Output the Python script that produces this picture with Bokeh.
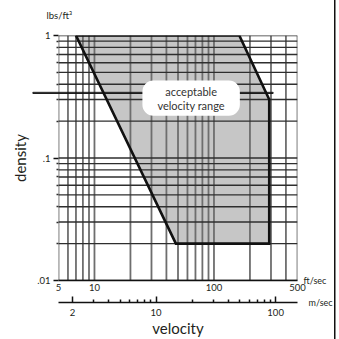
from bokeh.plotting import figure
from bokeh.models import Range1d, LogAxis, LogScale, FixedTicker, Label
from bokeh.embed import file_html
from bokeh.resources import INLINE

# ---- data -------------------------------------------------------------
region_velocity_fts = [7, 163, 290, 290, 48]
region_density = [1, 1, 0.3, 0.02, 0.02]

fts_grid = [5, 6, 7, 8, 9, 10, 20, 30, 40, 50, 60, 70, 80, 90, 100, 200, 300, 400, 500]
density_grid = [1, 0.9, 0.8, 0.7, 0.6, 0.5, 0.4, 0.3, 0.2,
                0.1, 0.09, 0.08, 0.07, 0.06, 0.05, 0.04, 0.03, 0.02, 0.01]

fts_ticks = [5, 10, 100, 500]
fts_tick_labels = ["5", "10", "100", "500"]
ms_ticks = [2, 10, 100]
ms_tick_labels = ["2", "10", "100"]
ms_minor_ticks = [3, 4, 5, 6, 7, 8, 9, 20, 30, 40, 50, 60, 70, 80, 90]
density_ticks = [1, 0.1, 0.01]
density_tick_labels = ["1", ".1", ".01"]
density_minor_ticks = [0.9, 0.8, 0.7, 0.6, 0.5, 0.4, 0.3, 0.2,
                       0.09, 0.08, 0.07, 0.06, 0.05, 0.04, 0.03, 0.02]
marker_density = 0.34
FT_PER_M = 3.28084

FONT = "Lato"
TXT = "#231f20"

p = figure(width=334, height=339, x_axis_type="log", y_axis_type="log",
           x_range=Range1d(5, 500), y_range=Range1d(0.01, 1),
           output_backend="svg", toolbar_location=None,
           min_border_left=58, min_border_right=37, min_border_top=35, min_border_bottom=58)
p.outline_line_color = None
p.grid.visible = False
p.styles = {"box-shadow": "1.5px 0 0 #111111"}

# region fill
p.patch(region_velocity_fts, region_density, fill_color="#c6c6c6", line_color=None)

# grid lines (drawn over the fill)
n = len(fts_grid)
p.segment(x0=fts_grid, y0=[density_grid[-1]] * n, x1=fts_grid, y1=[density_grid[0]] * n,
          line_color="#6e6e6e", line_width=1.8)
m = len(density_grid)
p.segment(x0=[fts_grid[0]] * m, y0=density_grid, x1=[fts_grid[-1]] * m, y1=density_grid,
          line_color="#2e2e2e", line_width=1.4)

# region outline
p.line(region_velocity_fts + region_velocity_fts[:1], region_density + region_density[:1],
       line_color="#111111", line_width=2.6, line_join="miter")

# marker line (a zero-height label box, so that it may reach past the frame)
p.add_layout(Label(x=5, y=marker_density, x_offset=94.5, text=" ", text_font_size="1px",
                   text_align="center", text_baseline="middle",
                   padding=(120, 0), border_line_color="#111111", border_line_width=1.0,
                   background_fill_color=None), "above")

# ft/sec axis
ax1 = p.xaxis[0]
ax1.ticker = FixedTicker(ticks=fts_ticks, minor_ticks=[])
ax1.major_label_overrides = {t: s for t, s in zip(fts_ticks, fts_tick_labels)}
ax1.major_tick_out = 0
ax1.major_tick_in = 0
ax1.minor_tick_out = 0
ax1.minor_tick_in = 0
ax1.axis_line_color = "#111111"
ax1.axis_line_width = 1.5
ax1.major_label_standoff = 3
ax1.major_label_text_font = FONT
ax1.major_label_text_font_size = "9.5px"
ax1.major_label_text_color = TXT
ax1.axis_label = " "
ax1.axis_label_text_font_size = "5px"
ax1.axis_label_standoff = 0

# m/sec axis
p.extra_x_ranges = {"ms": Range1d(5 / FT_PER_M, 500 / FT_PER_M)}
p.extra_x_scales = {"ms": LogScale()}
ax2 = LogAxis(x_range_name="ms", ticker=FixedTicker(ticks=ms_ticks, minor_ticks=ms_minor_ticks))
ax2.major_label_overrides = {t: s for t, s in zip(ms_ticks, ms_tick_labels)}
ax2.major_tick_out = 0
ax2.major_tick_in = 6
ax2.minor_tick_out = 0
ax2.minor_tick_in = 3
ax2.major_tick_line_color = "#111111"
ax2.minor_tick_line_color = "#111111"
ax2.major_tick_line_width = 1.5
ax2.minor_tick_line_width = 1.5
ax2.axis_line_color = "#111111"
ax2.axis_line_width = 1.5
ax2.major_label_standoff = 6
ax2.major_label_text_font = FONT
ax2.major_label_text_font_size = "9.5px"
ax2.major_label_text_color = TXT
ax2.axis_label = "velocity"
ax2.axis_label_text_font = FONT
ax2.axis_label_text_font_size = "15px"
ax2.axis_label_text_font_style = "normal"
ax2.axis_label_text_color = TXT
ax2.axis_label_standoff = 0
p.add_layout(ax2, "below")

# density axis
ay = p.yaxis[0]
ay.ticker = FixedTicker(ticks=density_ticks, minor_ticks=density_minor_ticks)
ay.major_label_overrides = {t: s for t, s in zip(density_ticks, density_tick_labels)}
ay.axis_line_color = None
ay.major_tick_out = 5
ay.major_tick_in = 0
ay.minor_tick_out = 2
ay.minor_tick_in = 0
ay.major_tick_line_color = "#111111"
ay.minor_tick_line_color = "#2e2e2e"
ay.major_tick_line_width = 1.4
ay.minor_tick_line_width = 1.4
ay.major_label_standoff = 3
ay.major_label_text_font = FONT
ay.major_label_text_font_size = "9.5px"
ay.major_label_text_color = TXT
ay.axis_label = "density"
ay.axis_label_text_font = FONT
ay.axis_label_text_font_size = "15px"
ay.axis_label_text_font_style = "normal"
ay.axis_label_text_color = TXT
ay.axis_label_standoff = 5

# unit labels (placed in side panels so that they are not clipped to the frame)
p.add_layout(Label(x=500, y=0.01, x_offset=6, y_offset=0, text="ft/sec", text_baseline="middle",
                   text_font=FONT, text_font_size="9px", text_color=TXT), "right")
p.add_layout(Label(x=500, y=0.01, x_offset=11, y_offset=-22, text="m/sec", text_baseline="middle",
                   text_font=FONT, text_font_size="9px", text_color=TXT), "above")
p.add_layout(Label(x=5, y=1, x_offset=-12, y_offset=20, text="lbs/ft³", text_baseline="middle",
                   text_font=FONT, text_font_size="9.5px", text_color=TXT), "above")

# annotation box
p.add_layout(Label(x=64.4, y=0.308, text="acceptable\nvelocity range",
                   text_align="center", text_baseline="middle",
                   text_font=FONT, text_font_size="11px", text_color="#333333",
                   text_line_height=1.1,
                   background_fill_color="white", border_radius=11, padding=(15, 4)))

open("out.html", "w").write(file_html(p, INLINE))
